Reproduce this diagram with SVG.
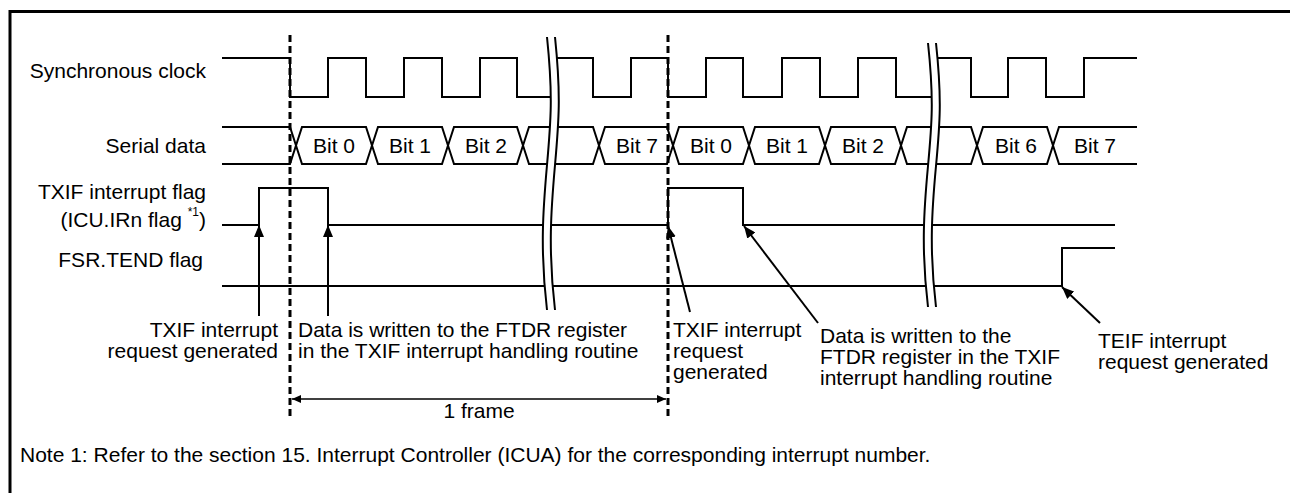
<svg xmlns="http://www.w3.org/2000/svg" width="1290" height="493" viewBox="0 0 1290 493">
<style>
text{font-family:"Liberation Sans",Arial,sans-serif;font-size:21px;fill:#000}
.sig{fill:none;stroke:#000;stroke-width:2}
.dash{fill:none;stroke:#000;stroke-width:3;stroke-dasharray:7 4}
.arr{fill:none;stroke:#000;stroke-width:2;marker-end:url(#ah)}
.brk{fill:none;stroke:#000;stroke-width:2}
.bw{fill:none;stroke:#fff;stroke-width:8}
.e{text-anchor:end}
.m{text-anchor:middle}
</style>
<defs>
<marker id="ah" markerUnits="userSpaceOnUse" markerWidth="13" markerHeight="10" refX="12" refY="5" orient="auto"><path d="M0,0 L12,5 L0,10 z" fill="#000"/></marker>
<marker id="fh" markerUnits="userSpaceOnUse" markerWidth="10" markerHeight="8" refX="9" refY="4" orient="auto-start-reverse"><path d="M0,0 L9,4 L0,8 z" fill="#000"/></marker>
</defs>
<rect x="10" y="11.5" width="1300" height="500" fill="none" stroke="#000" stroke-width="3"/>

<g id="labels">
<text class="e" x="206" y="78">Synchronous clock</text>
<text class="e" x="206" y="153">Serial data</text>
<text class="e" x="206" y="199">TXIF interrupt flag</text>
<text class="e" x="206" y="227">(ICU.IRn flag <tspan font-size="12" dy="-11">*1</tspan><tspan dy="11">)</tspan></text>
<text class="e" x="203" y="267">FSR.TEND flag</text>
</g>

<g id="clock">
<path class="sig" d="M222,58 H290 V97 H328 V58 H366 V97 H404 V58 H442 V97 H480 V58 H517 V97 H555 V58 H593 V97 H631 V58 H668 V97 H706 V58 H743 V97 H782 V58 H820 V97 H858 V58 H896 V97 H935 V58 H971 V97 H1008 V58 H1046 V97 H1084 V58 H1137"/>
</g>

<g id="serial-data">
<path class="sig" d="M222,127 H290 L302,164 H366 L378,127 H442 L454,164 H517 L529,127 H593 L605,164 H667 L679,127 H743 L755,164 H819 L831,127 H895 L907,164 H971 L983,127 H1047 L1059,164 H1137"/>
<path class="sig" d="M222,164 H290 L302,127 H366 L378,164 H442 L454,127 H517 L529,164 H593 L605,127 H667 L679,164 H743 L755,127 H819 L831,164 H895 L907,127 H971 L983,164 H1047 L1059,127 H1137"/>
<text class="m" x="334" y="153">Bit 0</text>
<text class="m" x="410" y="153">Bit 1</text>
<text class="m" x="486" y="153">Bit 2</text>
<text class="m" x="637" y="153">Bit 7</text>
<text class="m" x="711" y="153">Bit 0</text>
<text class="m" x="787" y="153">Bit 1</text>
<text class="m" x="863" y="153">Bit 2</text>
<text class="m" x="1016" y="153">Bit 6</text>
<text class="m" x="1095" y="153">Bit 7</text>
</g>

<g id="txif-flag">
<path class="sig" d="M222,225 H259 V188 H328 V225 H668 V188 H743 V225 H1115"/>
</g>

<g id="fsr-tend">
<path class="sig" d="M222,286 H1062 V248 H1115"/>
</g>

<g id="breaks">
<path class="bw" d="M551,37 C557,95 555,120 551,165 S544,250 551,310"/>
<path class="brk" d="M547,37 C553,95 551,120 547,165 S540,250 547,310"/>
<path class="brk" d="M555,37 C561,95 559,120 555,165 S548,250 555,310"/>
<path class="bw" d="M932,43 C938,99 936,123 932,166 S925,249 932,307"/>
<path class="brk" d="M928,43 C934,99 932,123 928,166 S921,249 928,307"/>
<path class="brk" d="M936,43 C942,99 940,123 936,166 S929,249 936,307"/>
</g>

<g id="connectors">
<line class="dash" x1="290" y1="35" x2="290" y2="418"/>
<line class="dash" x1="668" y1="35" x2="668" y2="418"/>
<line class="arr" x1="259" y1="316" x2="259" y2="225"/>
<line class="arr" x1="328" y1="316" x2="328" y2="225"/>
<line class="arr" x1="690" y1="312" x2="668" y2="226"/>
<line class="arr" x1="818" y1="323" x2="744" y2="226"/>
<line class="arr" x1="1100" y1="323" x2="1062" y2="287"/>
<line x1="292" y1="399" x2="666" y2="399" stroke="#000" stroke-width="1.5" marker-start="url(#fh)" marker-end="url(#fh)"/>
</g>

<g id="annotations">
<text class="e" x="278" y="337"><tspan x="278">TXIF interrupt</tspan><tspan x="278" dy="21">request generated</tspan></text>
<text x="298" y="337"><tspan x="298">Data is written to the FTDR register</tspan><tspan x="298" dy="21">in the TXIF interrupt handling routine</tspan></text>
<text x="673" y="337"><tspan x="673">TXIF interrupt</tspan><tspan x="673" dy="21">request</tspan><tspan x="673" dy="21">generated</tspan></text>
<text x="820" y="343"><tspan x="820">Data is written to the</tspan><tspan x="820" dy="21">FTDR register in the TXIF</tspan><tspan x="820" dy="21">interrupt handling routine</tspan></text>
<text x="1098" y="348"><tspan x="1098">TEIF interrupt</tspan><tspan x="1098" dy="21">request generated</tspan></text>
<text class="m" x="479" y="418">1 frame</text>
<text x="20" y="462">Note 1: Refer to the section 15. Interrupt Controller (ICUA) for the corresponding interrupt number.</text>
</g>
</svg>
